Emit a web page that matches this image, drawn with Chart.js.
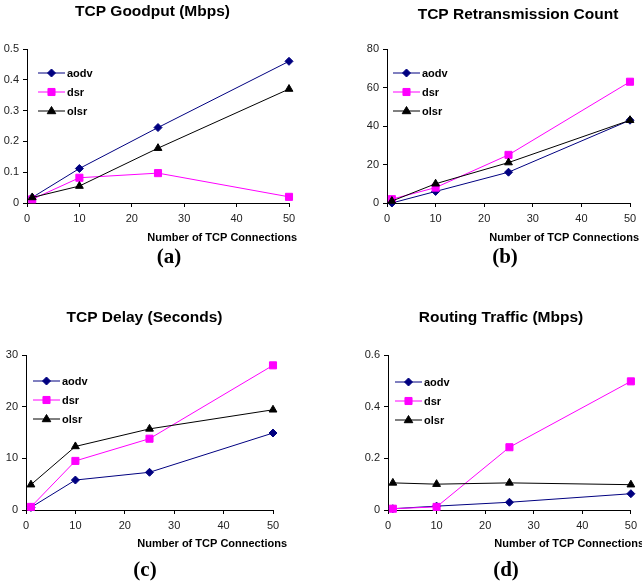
<!DOCTYPE html>
<html>
<head>
<meta charset="utf-8">
<script src="https://cdn.jsdelivr.net/npm/chart.js@4.4.0/dist/chart.umd.min.js"></script>
<style>
html, body { margin: 0; padding: 0; background: #fff; }
#wrap { position: relative; width: 642px; height: 586px; overflow: hidden; }
.panel { position: absolute; width: 321px; height: 293px; }
</style>
</head>
<body>
<div id="wrap">
  <div class="panel" style="left:0;top:0"><canvas id="ca" width="321" height="293"></canvas></div>
  <div class="panel" style="left:321px;top:0"><canvas id="cb" width="321" height="293"></canvas></div>
  <div class="panel" style="left:0;top:293px"><canvas id="cc" width="321" height="293"></canvas></div>
  <div class="panel" style="left:321px;top:293px"><canvas id="cd" width="321" height="293"></canvas></div>
</div>
<script>
// number of TCP connections (x values)
const connections = [1, 10, 25, 50];
const protocols = ['aodv', 'dsr', 'olsr'];
const xTicks = [0, 10, 20, 30, 40, 50];

// (a) TCP Goodput (Mbps)
const goodputAodv = [0.018, 0.112, 0.245, 0.46];
const goodputDsr  = [0.012, 0.082, 0.097, 0.020];
const goodputOlsr = [0.018, 0.055, 0.178, 0.37];

// (b) TCP Retransmission Count
const retransAodv = [0, 6, 16, 43];
const retransDsr  = [2, 8, 25, 63];
const retransOlsr = [1, 10, 21, 43];

// (c) TCP Delay (Seconds)
const delayAodv = [0.5, 5.8, 7.3, 14.9];
const delayDsr  = [0.6, 9.5, 13.8, 28];
const delayOlsr = [4.9, 12.3, 15.7, 19.4];

// (d) Routing Traffic (Mbps)
const routingAodv = [0.005, 0.015, 0.030, 0.063];
const routingDsr  = [0.005, 0.012, 0.243, 0.498];
const routingOlsr = [0.105, 0.100, 0.105, 0.098];

const colors = { aodv: '#000080', dsr: '#ff00ff', olsr: '#000000' };
const markers = { aodv: 'rectRot', dsr: 'rect', olsr: 'triangle' };
const markerSize = { aodv: 4, dsr: 5, olsr: 4.5 };

const sansFont = '"Liberation Sans", Arial, sans-serif';
const serifFont = '"Liberation Serif", "Times New Roman", serif';

function drawMarker(ctx, style, x, y, r, color) {
    ctx.save();
    ctx.fillStyle = color;
    ctx.strokeStyle = color;
    ctx.lineWidth = 1;
    ctx.beginPath();
    if (style === 'rectRot') {
        ctx.moveTo(x, y - r);
        ctx.lineTo(x + r, y);
        ctx.lineTo(x, y + r);
        ctx.lineTo(x - r, y);
    } else if (style === 'rect') {
        const s = r * Math.SQRT1_2;
        ctx.rect(x - s, y - s, 2 * s, 2 * s);
    } else {
        ctx.moveTo(x, y - r);
        ctx.lineTo(x + r * 0.95, y + r * 0.6);
        ctx.lineTo(x - r * 0.95, y + r * 0.6);
    }
    ctx.closePath();
    ctx.fill();
    ctx.stroke();
    ctx.restore();
}

// titles, axis title, caption and legend inside the plot
const panelText = {
    id: 'panelText',
    afterDraw(chart) {
        const t = chart.options.plugins.panelText;
        const ctx = chart.ctx;
        const area = chart.chartArea;
        ctx.save();
        ctx.fillStyle = '#000';
        ctx.textBaseline = 'middle';

        ctx.font = 'bold 15.5px ' + sansFont;
        ctx.textAlign = 'center';
        ctx.fillText(t.title, t.titleX, t.titleY);

        ctx.font = 'bold 11px ' + sansFont;
        ctx.textAlign = 'right';
        ctx.fillText('Number of TCP Connections', t.xTitleRight, t.xTitleY);

        ctx.font = 'bold 21px ' + serifFont;
        ctx.textAlign = 'center';
        ctx.fillText(t.caption, t.capX, t.capY);

        // legend
        ctx.font = 'bold 11px ' + sansFont;
        ctx.textAlign = 'left';
        protocols.forEach((p, i) => {
            const y = area.top + t.legY + i * 19;
            const x0 = area.left + t.legX;
            const x1 = x0 + 27;
            ctx.strokeStyle = colors[p];
            ctx.lineWidth = 1;
            ctx.beginPath();
            ctx.moveTo(x0, y);
            ctx.lineTo(x1, y);
            ctx.stroke();
            drawMarker(ctx, markers[p], (x0 + x1) / 2, y, markerSize[p], colors[p]);
            ctx.fillStyle = '#000';
            ctx.fillText(p, x1 + 2, y + 0.5);
        });
        ctx.restore();
    }
};

function makeChart(id, seriesList, yMax, yStep, box, text) {
    const datasets = protocols.map((p, i) => ({
        label: p,
        data: connections.map((x, j) => ({ x: x, y: seriesList[i][j] })),
        borderColor: colors[p],
        backgroundColor: colors[p],
        borderWidth: 1,
        pointStyle: markers[p],
        pointRadius: markerSize[p],
        pointBorderWidth: 1,
        tension: 0,
        clip: false,
        order: 2 - i
    }));
    const yWidth = 27;
    const xHeight = 30;
    return new Chart(document.getElementById(id), {
        type: 'line',
        data: { datasets: datasets },
        options: {
            responsive: false,
            animation: false,
            layout: {
                padding: {
                    left: box.left - yWidth,
                    top: box.top,
                    right: 321 - box.right,
                    bottom: 293 - box.bottom - xHeight
                }
            },
            plugins: {
                legend: { display: false },
                tooltip: { enabled: false },
                panelText: text
            },
            scales: {
                x: {
                    type: 'linear',
                    min: 0,
                    max: 50,
                    afterBuildTicks: (s) => { s.ticks = xTicks.map(v => ({ value: v })); },
                    afterFit: (s) => { s.height = xHeight; },
                    grid: { drawOnChartArea: false, drawTicks: true, tickLength: 4, color: '#000' },
                    border: { color: '#000', width: 1 },
                    ticks: { color: '#222', padding: 5, maxRotation: 0, font: { family: sansFont, size: 11 } }
                },
                y: {
                    min: 0,
                    max: yMax,
                    afterFit: (s) => { s.width = yWidth; },
                    grid: { drawOnChartArea: false, drawTicks: true, tickLength: 4, color: '#000' },
                    border: { color: '#000', width: 1 },
                    ticks: { stepSize: yStep, color: '#222', padding: 4, font: { family: sansFont, size: 11 } }
                }
            }
        },
        plugins: [panelText]
    });
}

makeChart('ca', [goodputAodv, goodputDsr, goodputOlsr], 0.5, 0.1,
    { left: 27, top: 49, right: 289, bottom: 203 },
    { title: 'TCP Goodput (Mbps)', titleX: 152.5, titleY: 12, xTitleRight: 297, xTitleY: 238,
      caption: '(a)', capX: 169, capY: 258, legX: 11, legY: 24 });

makeChart('cb', [retransAodv, retransDsr, retransOlsr], 80, 20,
    { left: 66, top: 49, right: 309, bottom: 203 },
    { title: 'TCP Retransmission Count', titleX: 197, titleY: 14.5, xTitleRight: 318, xTitleY: 238,
      caption: '(b)', capX: 184, capY: 258, legX: 6, legY: 24 });

makeChart('cc', [delayAodv, delayDsr, delayOlsr], 30, 10,
    { left: 26, top: 62, right: 273, bottom: 217 },
    { title: 'TCP Delay (Seconds)', titleX: 144.5, titleY: 25, xTitleRight: 287, xTitleY: 251,
      caption: '(c)', capX: 145, capY: 278, legX: 7, legY: 26 });

makeChart('cd', [routingAodv, routingDsr, routingOlsr], 0.6, 0.2,
    { left: 67, top: 62, right: 315, bottom: 217 },
    { title: 'Routing Traffic (Mbps)', titleX: 180, titleY: 25, xTitleRight: 323, xTitleY: 251,
      caption: '(d)', capX: 185, capY: 278, legX: 7, legY: 27 });
</script>
</body>
</html>
